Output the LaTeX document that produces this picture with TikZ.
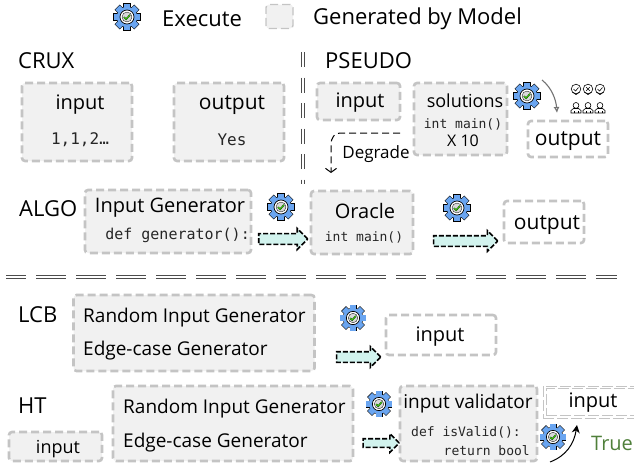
\documentclass[tikz,border=0pt]{standalone}
\usepackage{fontspec}
\setmainfont{Open Sans}
\setmonofont{DejaVu Sans Mono}
\usetikzlibrary{calc,shapes.arrows,arrows.meta}
\definecolor{dashgray}{HTML}{C4C4C4}
\definecolor{boxfill}{HTML}{F1F1F1}
\definecolor{gearblue}{HTML}{6AA5F0}
\definecolor{arrowfill}{HTML}{D2F3EE}
\definecolor{truegreen}{HTML}{4F7F3A}
\tikzset{
	genbox/.style={draw=dashgray, fill=boxfill, line width=2.6pt, dash pattern=on 8pt off 4pt, rounded corners=3pt, inner sep=0pt},
	plainbox/.style={genbox, fill=white},
	thinbox/.style={draw=dashgray, line width=0.8pt, dash pattern=on 11pt off 3pt, inner sep=0pt},
	txt/.style={inner sep=0pt, font=\fontsize{#1}{#1}\selectfont},
	txt/.default=20,
	code/.style={inner sep=0pt, text=black!85, font=\fontsize{#1}{#1}\ttfamily},
	code/.default=13,
	flowarrow/.style={single arrow, draw=black, fill=arrowfill, line width=1.6pt, dash pattern=on 5pt off 2pt, inner xsep=0pt, inner ysep=0pt, text height=9pt, text depth=0pt, text width=0pt, single arrow head extend=5pt},
	splitline/.style={draw=black!70, line width=0.9pt},
	pics/gearicon/.style={code={
		\foreach \a in {0,45,...,315} {
			\draw[line width=1.1pt, rotate=\a] (-3.1,8) rectangle (3.1,13.4);
		}
		\draw[line width=1.1pt] (0,0) circle (10.2);
		\foreach \a in {0,45,...,315} {
			\fill[gearblue, rotate=\a] (-3.1,8) rectangle (3.1,13.4);
		}
		\fill[gearblue] (0,0) circle (10.2);
		\draw[fill=white, line width=0.7pt] (0,0) circle (7);
		\draw[fill=boxfill!90!black, line width=0.3pt] (0,0) circle (5);
		\draw[black!80!green, line width=1.5pt] (-3,0.2) -- (-0.9,2.2) -- (3,-2.1);
		\draw[green!70!yellow!85!black, line width=0.7pt] (-3,0.2) -- (-0.9,2.2) -- (3,-2.1);
	}},
	pics/judge/.style={code={
		\draw[line width=0.6pt] (0,-18) circle (4.8);
		\draw[line width=0.6pt] (-3.2,-14.7) -- (0,-12.4) -- (3.2,-14.7);
		\draw[line width=0.6pt] (0,-1.6) circle (2.9);
		\draw[line width=0.6pt] (-5,6) -- (-5,3.5) -- (-2.5,1.5) -- (2.5,1.5) -- (5,3.5) -- (5,6) -- cycle;
		\draw[line width=0.6pt] (-2,6) -- (-2,3.5) (2,6) -- (2,3.5);
	}},
}

\begin{document}
\begin{tikzpicture}[x=1pt, y=-1pt]
	%%%%% START %%%%%
	\useasboundingbox (0,0) rectangle (634,463);

	% legend
	\pic at (127,17) {gearicon};
	\node[txt=22, anchor=west] (execlabel) at (162,19) {Execute};
	\node[genbox, line width=1.4pt, minimum width=27pt, minimum height=24pt] (legendbox) at (279.5,16.5) {};
	\node[txt=22, anchor=west] (modellabel) at (313,19) {Generated by Model};

	% dividers
	\foreach \d in {-1.4,1.4} {
		\draw[splitline, dash pattern=on 15pt off 10.5pt] (303+\d,52) -- (303+\d,184);
		\draw[splitline, dash pattern=on 30pt off 10pt, dash phase=10pt] (6,277+\d) -- (617,277+\d);
	}

	% crux
	\node[txt=22, anchor=west] (cruxlabel) at (18,61) {CRUX};
	\node[genbox, minimum width=110pt, minimum height=78pt] (cruxin) at (77,122) {};
	\node[txt] (cruxintxt) at (80,105) {input};
	\node[code=16] (cruxinval) at (80,140) {1,1,2…};
	\node[genbox, minimum width=110pt, minimum height=78pt] (cruxout) at (229,122) {};
	\node[txt=21] (cruxouttxt) at (232,105) {output};
	\node[code=16] (cruxoutval) at (232,140) {Yes};

	% pseudo
	\node[txt=22, anchor=west] (pseudolabel) at (325,61) {PSEUDO};
	\node[genbox, minimum width=83pt, minimum height=37pt] (pseudoin) at (358.5,101.5) {};
	\node[txt] (pseudointxt) at (360,103) {input};
	\node[genbox, minimum width=93pt, minimum height=72pt] (pseudosol) at (460.5,119) {};
	\node[txt=18] (pseudosoltxt) at (465,101) {solutions};
	\node[code] (pseudosolcode) at (463,124) {int main()};
	\node[txt=16] (pseudosolnum) at (463,141) {X 10};
	\pic at (527,96) {gearicon};
	\node[plainbox, minimum width=80pt, minimum height=36pt] (pseudoout) at (568,139) {};
	\node[txt=21] (pseudoouttxt) at (568,141) {output};
	\foreach \x in {576,588,600} {
		\pic at (\x,107) {judge};
	}
	\draw[line width=0.6pt] (573.5,89) -- (575.5,91) -- (578.5,87.5);
	\draw[line width=0.6pt] (586.2,87.2) -- (589.8,90.8) (589.8,87.2) -- (586.2,90.8);
	\draw[line width=0.6pt] (597.5,89) -- (599.5,91) -- (602.5,87.5);
	\coordinate (judgefrom) at (542,80);
	\coordinate (judgeto) at (557,113);
	\draw[-{Latex[open,length=6pt,width=6pt]}, draw=black!55, line width=1.1pt] (judgefrom) .. controls (552,88) and (556,100) .. (judgeto);
	\coordinate (degradefrom) at (400,133);
	\coordinate (degradeto) at (331,173);
	\node[txt=17] (degradetxt) at (376,154) {Degrade};
	\draw[-{Straight Barb[length=4pt,width=11pt]}, line width=1pt, dash pattern=on 7pt off 4pt] (degradefrom) -- (342,133) .. controls (334,133) and (331,137) .. (331,146) -- (degradeto);

	% algo
	\node[txt=22, anchor=west] (algolabel) at (19,209) {ALGO};
	\node[genbox, minimum width=166pt, minimum height=63pt] (algogen) at (168,221.5) {};
	\node[txt] (algogentxt) at (170,208) {Input Generator};
	\node[code=15, anchor=east] (algogencode) at (250,235) {def generator():};
	\pic at (281,207) {gearicon};
	\node[flowarrow, minimum height=49pt, minimum width=21pt] (algoarrowa) at (280.5,239) {};
	\node[genbox, minimum width=102pt, minimum height=63pt] (oracle) at (362,222.5) {};
	\node[txt] (oracletxt) at (365,211) {Oracle};
	\node[code] (oraclecode) at (364,237) {int main()};
	\pic at (457,208) {gearicon};
	\node[flowarrow, minimum height=64pt, minimum width=20pt] (algoarrowb) at (463,241) {};
	\node[plainbox, minimum width=80pt, minimum height=42pt] (algoout) at (544,222) {};
	\node[txt=21] (algoouttxt) at (547,225) {output};

	% lcb
	\node[txt=22, anchor=west] (lcblabel) at (18,315) {LCB};
	\node[genbox, minimum width=241pt, minimum height=76pt] (lcbgen) at (194,333) {};
	\node[txt=19, anchor=west] (lcbrandom) at (83,318) {Random Input Generator};
	\node[txt=19, anchor=west] (lcbedge) at (83,351) {Edge-case Generator};
	\pic[scale=0.95] at (353,318) {gearicon};
	\node[flowarrow, minimum height=44pt, minimum width=18pt] (lcbarrow) at (356,357) {};
	\node[plainbox, minimum width=110pt, minimum height=40pt] (lcbin) at (441,335) {};
	\node[txt] (lcbintxt) at (440,337) {input};

	% ht
	\node[txt=22, anchor=west] (htlabel) at (18,406) {HT};
	\node[genbox, minimum width=93pt, minimum height=29pt] (htin) at (55.5,446.5) {};
	\node[txt=18] (htintxt) at (58,449) {input};
	\node[genbox, minimum width=240pt, minimum height=75pt] (htgen) at (233,423.5) {};
	\node[txt=19, anchor=west] (htrandom) at (123,409) {Random Input Generator};
	\node[txt=19, anchor=west] (htedge) at (123,443) {Edge-case Generator};
	\pic[scale=0.95] at (379,404) {gearicon};
	\node[flowarrow, minimum height=36pt, minimum width=15pt, text height=7pt] (htarrow) at (379,443) {};
	\node[genbox, minimum width=137pt, minimum height=75pt] (validator) at (468.5,423.5) {};
	\node[txt=19] (validatortxt) at (468,404) {input validator};
	\node[code, anchor=west] (validatordef) at (411,432) {def isValid():};
	\node[code, anchor=east] (validatorret) at (530,451) {return bool};
	\node[thinbox, minimum width=110pt, minimum height=32pt] (htout) at (598,402) {};
	\node[thinbox, minimum width=110pt, minimum height=27pt] (htoutin) at (601,402) {};
	\node[txt] (htouttxt) at (593,403) {input};
	\pic[scale=0.95] at (553,437) {gearicon};
	\coordinate (truefrom) at (550,462);
	\coordinate (trueto) at (577,425);
	\draw[-{Stealth[length=8pt,width=8pt]}, line width=1pt] (truefrom) .. controls (566,456) and (574,444) .. (trueto);
	\node[txt=20, text=truegreen, anchor=west] (truetxt) at (591,443) {True};

	%%%%% END %%%%%
\end{tikzpicture}
\end{document}
